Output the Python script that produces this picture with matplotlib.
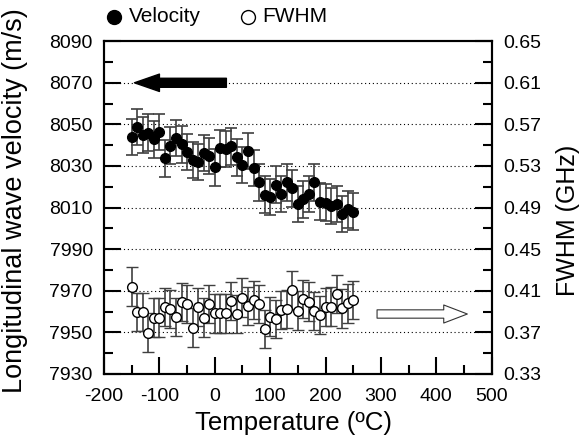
import matplotlib.pyplot as plt
from matplotlib.lines import Line2D
from matplotlib.ticker import FixedLocator, MultipleLocator

plt.rcParams['font.family'] = ['Liberation Sans', 'DejaVu Sans']
plt.rcParams['axes.unicode_minus'] = False

# temperatures (ºC)
temperature = [-150, -140, -130, -120, -110, -100, -90, -80, -70, -60,
               -50, -40, -30, -20, -10, 0, 10, 20, 30, 40,
               50, 60, 70, 80, 90, 100, 110, 120, 130, 140,
               150, 160, 170, 180, 190, 200, 210, 220, 230, 240, 250]

# longitudinal velocity (m/s)
velocity = [8044.0, 8048.8, 8044.8, 8046.0, 8042.8, 8046.3, 8033.6, 8039.7, 8043.5, 8040.4,
            8036.8, 8032.8, 8032.0, 8036.3, 8034.7, 8029.3, 8038.4, 8038.1, 8039.5, 8034.1,
            8030.4, 8037.1, 8029.1, 8022.1, 8016.2, 8015.0, 8021.0, 8016.5, 8022.1, 8019.2,
            8011.7, 8013.9, 8016.5, 8022.1, 8012.8, 8012.3, 8010.7, 8011.7, 8006.9, 8009.1, 8008.0]
velocity_err = 8.8

# FWHM (GHz)
fwhm = [0.4139, 0.3893, 0.3893, 0.3697, 0.3841, 0.3841, 0.3941, 0.3924, 0.3845, 0.3989,
        0.3970, 0.3745, 0.3941, 0.3841, 0.3970, 0.3883, 0.3883, 0.3883, 0.4001, 0.3876,
        0.4033, 0.3953, 0.4011, 0.3973, 0.3732, 0.3851, 0.3826, 0.3915, 0.3924, 0.4107,
        0.3908, 0.4018, 0.3995, 0.3905, 0.3867, 0.3941, 0.3947, 0.4066, 0.3931, 0.3979, 0.4011]
fwhm_err = 0.0185

vel_ticks = [7930, 7950, 7970, 7990, 8010, 8030, 8050, 8070, 8090]
fwhm_ticks = [0.33, 0.37, 0.41, 0.45, 0.49, 0.53, 0.57, 0.61, 0.65]

fig = plt.figure(figsize=(5.84, 4.43), dpi=100)
ax = fig.add_axes([0.178, 0.156, 0.664, 0.751])
ax2 = ax.twinx()

ax.set_xlim(-200, 500)
ax.set_ylim(7930, 8090)
ax2.set_ylim(0.33, 0.65)

ax.xaxis.set_major_locator(MultipleLocator(100))
ax.xaxis.set_minor_locator(MultipleLocator(50))
ax.yaxis.set_major_locator(FixedLocator(vel_ticks))
ax.yaxis.set_minor_locator(FixedLocator([v + 10 for v in vel_ticks[:-1]]))
ax2.yaxis.set_major_locator(FixedLocator(fwhm_ticks))
ax2.yaxis.set_minor_locator(FixedLocator([f + 0.02 for f in fwhm_ticks[:-1]]))
ax2.yaxis.set_major_formatter(plt.FormatStrFormatter('%.2f'))

# dotted horizontal grid
for yv in vel_ticks[1:-1]:
    ax.axhline(yv, color='black', lw=0.8, ls=(0, (1, 2.5)), zorder=0)

for a in (ax, ax2):
    for s in a.spines.values():
        s.set_linewidth(1.5)
    a.tick_params(which='major', direction='in', length=12, width=1.5, labelsize=14, pad=8)
    a.tick_params(which='minor', direction='in', length=6.5, width=1.5)
ax.tick_params(axis='both', which='both', top=False, right=False)
ax.tick_params(axis='x', pad=10)
ax2.tick_params(axis='y', which='both', left=False, right=True)

ax.errorbar(temperature, velocity, yerr=velocity_err, fmt='o', color='black',
            ms=7, ecolor='#404040', elinewidth=1.2, capsize=4, capthick=1.2, zorder=3)
ax2.errorbar(temperature, fwhm, yerr=fwhm_err, fmt='o', mfc='white', mec='black', mew=1,
             ms=7, ecolor='#404040', elinewidth=1.2, capsize=4, capthick=1.2, zorder=3)

ax.annotate('', xy=(-145, 8070), xytext=(21, 8070),
            arrowprops=dict(arrowstyle='simple,head_length=1.8,head_width=1.25,tail_width=0.65',
                            fc='black', ec='black', shrinkA=0, shrinkB=0))
ax2.annotate('', xy=(456, 0.3876), xytext=(293, 0.3876),
             arrowprops=dict(arrowstyle='simple,head_length=1.7,head_width=1.3,tail_width=0.6',
                             fc='white', ec='#333333', lw=0.8, shrinkA=0, shrinkB=0))

ax.set_xlabel('Temperature (ºC)', fontsize=18.5)
ax.xaxis.set_label_coords(0.49, -0.112)
ax.set_ylabel('Longitudinal wave velocity (m/s)', fontsize=19.5)
ax.yaxis.set_label_coords(-0.195, 0.52)
ax2.set_ylabel('FWHM (GHz)', fontsize=18)
ax2.yaxis.set_label_coords(1.165, 0.46)

# legend above the axes
leg_y = 0.962
fig.add_artist(Line2D([114 / 584], [leg_y], transform=fig.transFigure, ls='none',
                      marker='o', color='black', ms=10))
fig.text(129 / 584, leg_y, 'Velocity', fontsize=15, va='center', ha='left')
fig.add_artist(Line2D([248 / 584], [leg_y], transform=fig.transFigure, ls='none',
                      marker='o', mfc='white', mec='black', mew=1, ms=10))
fig.text(262 / 584, leg_y, 'FWHM', fontsize=15, va='center', ha='left')

fig.savefig('out.png', dpi=100)
